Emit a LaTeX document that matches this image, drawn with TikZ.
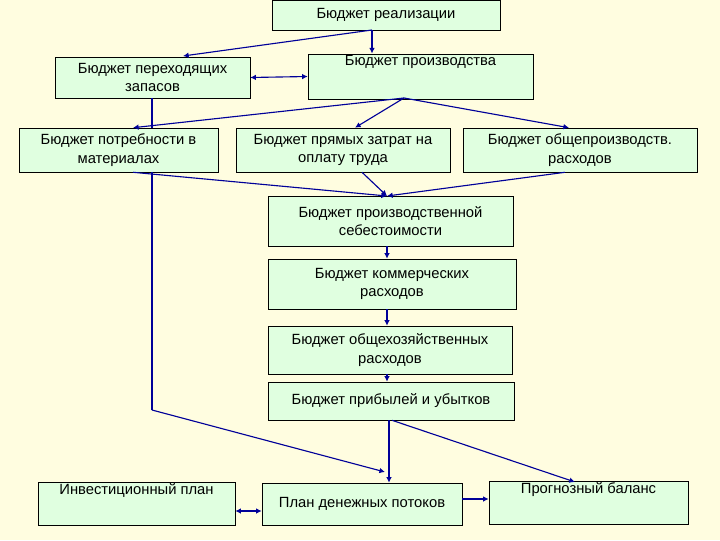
\documentclass[tikz,border=0pt]{standalone}
\usepackage{fontspec}
\setmainfont{Liberation Sans}
\usetikzlibrary{arrows.meta}

\tikzset{
    budget/.style={draw=black, fill=green!12, align=center, inner sep=1pt, font=\fontsize{10.5}{13}\selectfont},
    flow/.style={draw=blue!60!black, thick, -{Latex[length=4pt,width=4pt]}},
    flowline/.style={draw=blue!60!black, thick}
}

\begin{document}
\begin{tikzpicture}[x=0.025cm, y=-0.025cm]
    \fill[yellow!12] (0,0) rectangle (720,540);
    \useasboundingbox (0,0) rectangle (720,540);
    % boxes
    \node[budget, minimum width=228*0.025cm, minimum height=30*0.025cm] (sales) at (386,15) {Бюджет реализации};
    \node[budget, minimum width=195*0.025cm, minimum height=41*0.025cm] (stock) at (152.5,77.5) {Бюджет переходящих\\запасов};
    \node[budget, minimum width=225*0.025cm, minimum height=43*0.025cm] (prod) at (420.5,76.5) {Бюджет производства\\[10pt]};
    \node[budget, minimum width=199*0.025cm, minimum height=44*0.025cm] (mat) at (118.5,150) {Бюджет потребности в\\материалах};
    \node[budget, minimum width=214*0.025cm, minimum height=44*0.025cm] (labor) at (343,150) {Бюджет прямых затрат на\\оплату труда};
    \node[budget, minimum width=234*0.025cm, minimum height=44*0.025cm] (overh) at (580,150) {Бюджет общепроизводств.\\расходов};
    \node[budget, minimum width=245*0.025cm, minimum height=50*0.025cm] (cost) at (390.5,221) {Бюджет производственной\\себестоимости};
    \node[budget, minimum width=248*0.025cm, minimum height=50*0.025cm] (sell) at (392,284) {Бюджет коммерческих\\расходов};
    \node[budget, minimum width=244*0.025cm, minimum height=48*0.025cm] (admin) at (390,350) {Бюджет общехозяйственных\\расходов};
    \node[budget, minimum width=246*0.025cm, minimum height=38*0.025cm] (pl) at (391,401) {Бюджет прибылей и убытков};
    \node[budget, minimum width=197*0.025cm, minimum height=42*0.025cm] (invest) at (136.5,504) {Инвестиционный план\\[8pt]};
    \node[budget, minimum width=200*0.025cm, minimum height=42*0.025cm] (cash) at (362,504) {План денежных потоков};
    \node[budget, minimum width=199*0.025cm, minimum height=43*0.025cm] (bal) at (588.5,502.5) {Прогнозный баланс\\[8pt]};
    % connectors
    \coordinate (s0) at (372,30);
    \coordinate (p0) at (404,98);
    \coordinate (c0) at (387,196);
    \coordinate (m1) at (152,172);
    \coordinate (m2) at (152,410);
    \draw[flow] (s0) -- (prod.north -| s0);
    \draw[flow] (s0) -- (183,56);
    \draw[flow, {Latex[length=4pt,width=4pt]}-{Latex[length=4pt,width=4pt]}] (stock.east) -- (prod.west);
    \draw[flowline] (stock.south -| m1) -- (mat.north -| m1);
    \draw[flow] (p0) -- (mat.north -| 133,0);
    \draw[flow] (p0) -- (labor.north -| 355,0);
    \draw[flow] (p0) -- (overh.north -| 569,0);
    \draw[flow] (mat.south -| 133,0) -- (c0);
    \draw[flow] (labor.south -| 362,0) -- (c0);
    \draw[flow] (overh.south -| 565,0) -- (c0);
    \draw[flow] (cost.south -| c0) -- (sell.north -| c0);
    \draw[flow] (sell.south -| c0) -- (admin.north -| c0);
    \draw[flow] (admin.south -| c0) -- (pl.north -| c0);
    \draw[flowline] (m1) -- (m2);
    \draw[flow] (m2) -- (385,472);
    \draw[flow] (pl.south -| 389,0) -- (cash.north -| 389,0);
    \draw[flow] (pl.south -| 392,0) -- (575,482);
    \draw[flow, {Latex[length=4pt,width=4pt]}-{Latex[length=4pt,width=4pt]}] (invest.east |- 0,511) -- (cash.west |- 0,511);
    \draw[flow] (cash.east |- 0,499) -- (bal.west |- 0,499);
\end{tikzpicture}
\end{document}
